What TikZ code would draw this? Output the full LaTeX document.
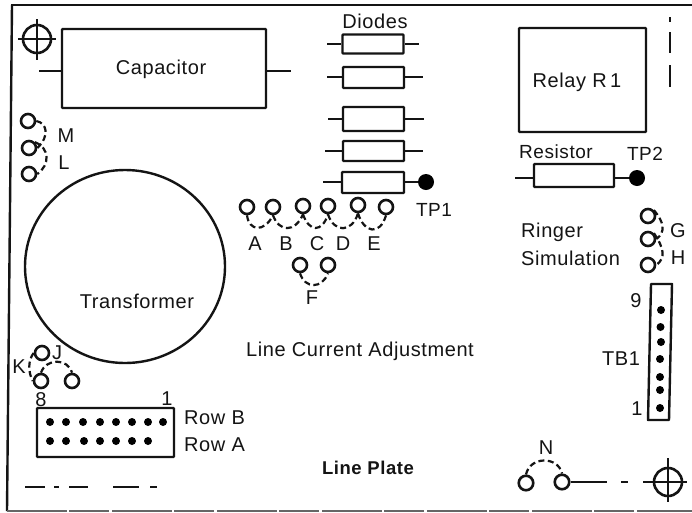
\documentclass[tikz,border=0pt]{standalone}
\usepackage{fontspec}
\usetikzlibrary{shapes.geometric}
\setmainfont[LetterSpace=3]{Liberation Sans}
\tikzset{
  ink/.style={draw=black!92},
  part/.style={ink,line width=2.4pt,rectangle,inner sep=0pt,rounded corners=0.8pt,font=\lab},
  lead/.style={ink,line width=2.4pt},
  ring/.style={ink,line width=2.6pt,circle,inner sep=0pt,minimum size=14pt},
  jump/.style={ink,line width=2.2pt,dash pattern=on 6pt off 3.5pt},
  tp/.style={circle,fill=black,inner sep=0pt,minimum size=16pt},
  pin/.style={circle,fill=black,inner sep=0pt,minimum size=8pt},
  lbl/.style={inner sep=0pt,font=\lab,text=black!92,text height=14pt,text depth=0pt},
  cross/.style={ink,line width=2.6pt,circle,inner sep=0pt,minimum size=28pt}
}
\newcommand{\lab}{\fontsize{20}{22}\selectfont}
\newcommand{\labb}{\fontsize{18.5}{22}\selectfont\bfseries}
\newcommand{\labs}{\fontsize{19}{22}\selectfont}
\begin{document}
\begin{tikzpicture}[x=1pt,y=-1pt]
\useasboundingbox (0,0) rectangle (692,512);
\fill[white] (0,0) rectangle (692,512);
% frame
\draw[ink,line width=2.4pt] (11,5) -- (692,5);
\draw[ink,line width=2.4pt] (12,5) -- (7,511);
\draw[draw=black!60,line width=1.6pt,dash pattern=on 60pt off 2pt on 40pt off 3pt] (7,511) -- (692,511);
% mounting crosshair TL
\node[cross] (crossA) at (37,39) {};
\coordinate (cAw) at (18,39); \coordinate (cAe) at (56,39);
\coordinate (cAn) at (37,19); \coordinate (cAs) at (37,60);
\draw[lead] (cAw) -- (cAe); \draw[lead] (cAn) -- (cAs);
% capacitor
\node[part,minimum width=204pt,minimum height=79pt] (cap) at (164,68.5) {};
\node[lbl] (capL) at (161,67) {Capacitor};
\coordinate (capW) at (39,71); \coordinate (capE) at (291,71);
\draw[lead] (capW) -- (cap.west |- capW); \draw[lead] (cap.east |- capE) -- (capE);
% diodes
\node[lbl] (diodes) at (375,21) {Diodes};
\node[part,minimum width=61pt,minimum height=19pt] (d1) at (373,44) {};
\node[part,minimum width=61pt,minimum height=21pt] (d2) at (373.5,77.5) {};
\node[part,minimum width=61pt,minimum height=24pt] (d3) at (373.5,119) {};
\node[part,minimum width=61pt,minimum height=20pt] (d4) at (373.5,151) {};
\node[part,minimum width=62pt,minimum height=21pt] (d5) at (373,182.5) {};
\coordinate (d1w) at (327,44); \coordinate (d1e) at (419,44);
\coordinate (d2w) at (327,77); \coordinate (d2e) at (423,77);
\coordinate (d3w) at (328,119); \coordinate (d3e) at (424,119);
\coordinate (d4w) at (325,151); \coordinate (d4e) at (423,151);
\coordinate (d5w) at (323,182);
\draw[lead] (d1w) -- (d1.west |- d1w); \draw[lead] (d1.east |- d1e) -- (d1e);
\draw[lead] (d2w) -- (d2.west |- d2w); \draw[lead] (d2.east |- d2e) -- (d2e);
\draw[lead] (d3w) -- (d3.west |- d3w); \draw[lead] (d3.east |- d3e) -- (d3e);
\draw[lead] (d4w) -- (d4.west |- d4w); \draw[lead] (d4.east |- d4e) -- (d4e);
\draw[lead] (d5w) -- (d5.west |- d5w);
\node[tp] (tp1) at (426,182) {};
\draw[lead] (d5.east |- tp1) -- (tp1);
\node[lbl,font=\labs] (tp1L) at (434,209) {TP1};
% straps A-E
\node[ring] (r1) at (247,207) {};
\node[ring] (r2) at (273,207) {};
\node[ring] (r3) at (303,206) {};
\node[ring] (r4) at (328,206) {};
\node[ring] (r5) at (358,205) {};
\node[ring] (r6) at (386,207) {};
\draw[jump] (r1.south) .. controls (249,231) and (264,233) .. (r2.south);
\draw[jump] (r2.south) .. controls (279,232) and (295,233) .. (r3.south);
\draw[jump] (r3.south) .. controls (309,232) and (322,233) .. (r4.south);
\draw[jump] (r4.south) .. controls (334,233) and (352,233) .. (r5.south);
\draw[jump] (r5.south) .. controls (364,233) and (380,236) .. (r6.south);
\node[lbl] (la) at (255,243) {A};
\node[lbl] (lb) at (286,243) {B};
\node[lbl] (lc) at (317,243) {C};
\node[lbl] (ld) at (343,243) {D};
\node[lbl] (le) at (374,243) {E};
\node[ring] (f1) at (300,265) {};
\node[ring] (f2) at (328,265) {};
\draw[jump] (f1.south) .. controls (305,289) and (322,289) .. (f2.south);
\node[lbl] (lf) at (312,297) {F};
% relay
\node[part,minimum width=127pt,minimum height=104pt] (relay) at (582.5,80) {};
\node[lbl] (relayL) at (577,80) {Relay R\,1};
\coordinate (m1) at (670,17); \coordinate (m2) at (670,22);
\coordinate (m3) at (670,32); \coordinate (m4) at (670,53);
\coordinate (m5) at (670,65); \coordinate (m6) at (670,87);
\draw[lead] (m1) -- (m2); \draw[lead] (m3) -- (m4); \draw[lead] (m5) -- (m6);
% resistor
\node[lbl,font=\labs] (resL) at (556,151) {Resistor};
\node[part,minimum width=80pt,minimum height=23pt] (res) at (574,175.5) {};
\coordinate (resW) at (515,178);
\draw[lead] (resW) -- (res.west |- resW);
\node[tp] (tp2) at (637,178) {};
\draw[lead] (res.east |- tp2) -- (tp2);
\node[lbl,font=\labs] (tp2L) at (645,153) {TP2};
% ringer
\node[lbl,anchor=west] (ringer) at (521,230) {Ringer};
\node[lbl,anchor=west] (simul) at (521,258) {Simulation};
\node[ring] (g1) at (648,216) {};
\node[ring] (g2) at (648,239) {};
\node[ring] (g3) at (648,265) {};
\draw[jump] (g1.north east) .. controls (664,222) and (666,232) .. (g2.east);
\draw[jump] (g2.north east) .. controls (664,248) and (666,258) .. (g3.east);
\node[lbl] (lg) at (678,230) {G};
\node[lbl] (lh) at (678,257) {H};
% M L
\node[ring] (m) at (28,121) {};
\node[ring] (mid) at (29,148) {};
\node[ring] (l) at (29,174) {};
\draw[jump] (m.east) .. controls (47,123) and (50,136) .. (mid.east);
\draw[jump] (mid.north east) .. controls (50,148) and (50,165) .. (l.east);
\node[lbl] (lm) at (66,135) {M};
\node[lbl] (ll) at (64,162) {L};
% transformer
\node[ink,line width=2.4pt,ellipse,inner sep=0pt,minimum width=200pt,minimum height=193pt] (xf) at (125,266.5) {};
\node[lbl] (xfL) at (137,301) {Transformer};
% adjust labels
\node[lbl] (lca) at (360,349) {Line Current Adjustment};
\node[lbl,font=\labb] (lp) at (368,467) {Line Plate};
% J K
\node[ring] (j) at (42,353) {};
\node[ring] (k) at (41,381) {};
\node[ring] (kr) at (72,381) {};
\draw[jump] (j.west) .. controls (28,360) and (28,372) .. (k.west);
\draw[jump] (k.north) .. controls (46,358) and (68,358) .. (kr.north);
\node[lbl] (lj) at (57,352) {J};
\node[lbl] (lk) at (19,366) {K};
\node[lbl] (l8) at (41,399) {8};
\node[lbl] (l1) at (167,398) {1};
% connector rows
\node[part,minimum width=137pt,minimum height=49pt] (conn) at (105.5,432.5) {};
\foreach \n/\x in {1/50,2/66,3/83,4/100,5/116,6/132,7/148,8/163}
  \node[pin] (b\n) at (\x,422) {};
\foreach \n/\x in {1/50,2/66,3/84,4/100,5/116,6/132,7/148}
  \node[pin] (a\n) at (\x,441) {};
\node[lbl,anchor=west] (rowb) at (184,417) {Row B};
\node[lbl,anchor=west] (rowa) at (184,444) {Row A};
% bottom-left chain line
\coordinate (z1) at (25,487); \coordinate (z2) at (45,487);
\coordinate (z3) at (54,487); \coordinate (z4) at (59,487);
\coordinate (z5) at (69,487); \coordinate (z6) at (88,487);
\coordinate (z7) at (113,487); \coordinate (z8) at (139,487);
\coordinate (z9) at (150,487); \coordinate (z10) at (157,487);
\draw[lead] (z1) -- (z2); \draw[lead] (z3) -- (z4); \draw[lead] (z5) -- (z6);
\draw[lead] (z7) -- (z8); \draw[lead] (z9) -- (z10);
% TB1
\coordinate (t1) at (651,284); \coordinate (t2) at (672,284);
\coordinate (t3) at (669,420); \coordinate (t4) at (648,420);
\draw[ink,line width=2.4pt,line join=round] (t1) -- (t2) -- (t3) -- (t4) -- cycle;
\foreach \n/\x/\y in {1/661/310,2/660.5/327,3/661/342,4/660/359,5/660/377,6/660/390,7/660/408}
  \node[pin] (tb\n) at (\x,\y) {};
\node[lbl] (l9) at (636,300) {9};
\node[lbl] (ltb) at (621,358) {TB1};
\node[lbl] (l1b) at (637,408) {1};
% N
\node[lbl] (ln) at (546,447) {N};
\node[ring,minimum size=14.5pt] (n1) at (526,483) {};
\node[ring,minimum size=14.5pt] (n2) at (562,482) {};
\draw[jump] (n1.north) .. controls (530,456) and (558,456) .. (n2.north);
\node[cross] (crossB) at (668,482) {};
\coordinate (nA) at (607,482); \coordinate (nB) at (621,482); \coordinate (nC) at (628,482);
\coordinate (nD) at (643,482); \coordinate (nE) at (687,482);
\coordinate (nF) at (668,458); \coordinate (nG) at (668,502);
\draw[lead] (n2) -- (nA); \draw[lead] (nB) -- (nC); \draw[lead] (nD) -- (nE); \draw[lead] (nF) -- (nG);
\end{tikzpicture}
\end{document}
